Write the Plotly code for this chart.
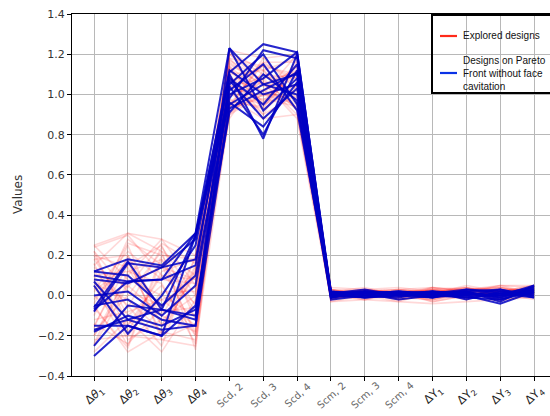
import plotly.graph_objects as go

dims = ["d1", "d2", "d3", "d4", "scd2", "scd3", "scd4", "scm2", "scm3", "scm4", "y1", "y2", "y3", "y4"]
tick_labels = ["Δ<i>θ</i><sub>1</sub>", "Δ<i>θ</i><sub>2</sub>", "Δ<i>θ</i><sub>3</sub>", "Δ<i>θ</i><sub>4</sub>",
               "Scd, 2", "Scd, 3", "Scd, 4", "Scm, 2", "Scm, 3", "Scm, 4",
               "ΔY<sub>1</sub>", "ΔY<sub>2</sub>", "ΔY<sub>3</sub>", "ΔY<sub>4</sub>"]
light_label = [False, False, False, False, True, True, True, True, True, True, False, False, False, False]
y_ticks = [-0.4, -0.2, 0.0, 0.2, 0.4, 0.6, 0.8, 1.0, 1.2, 1.4]
legend_names = ["Explored designs", "Designs on Pareto<br>Front without face<br>cavitation"]

explored = [
    [0.25, 0.31, 0.28, 0.20, 1.15, 1.05, 1.12, 0.00, 0.02, 0.01, 0.03, 0.01, 0.02, 0.04],
    [0.15, 0.31, 0.22, 0.10, 1.20, 1.10, 1.00, 0.02, 0.00, -0.01, 0.02, 0.03, 0.04, 0.02],
    [-0.20, 0.10, 0.28, 0.05, 0.92, 1.00, 1.05, -0.02, 0.01, 0.02, -0.03, 0.00, 0.01, 0.03],
    [0.20, -0.10, 0.05, -0.20, 1.00, 0.95, 1.15, 0.01, 0.03, 0.00, 0.01, -0.02, 0.03, 0.00],
    [-0.10, 0.25, -0.15, 0.15, 1.10, 1.12, 0.92, 0.03, -0.01, 0.02, 0.00, 0.02, -0.03, 0.01],
    [0.05, -0.25, 0.20, -0.05, 0.95, 1.15, 1.08, 0.00, 0.02, 0.03, 0.02, 0.01, 0.02, 0.05],
    [-0.25, 0.05, -0.10, 0.18, 1.05, 0.90, 1.18, -0.01, 0.00, 0.01, 0.04, 0.03, 0.00, 0.02],
    [0.18, 0.20, -0.22, -0.25, 1.18, 1.00, 0.95, 0.02, 0.01, -0.02, 0.01, -0.01, 0.01, 0.03],
    [0.00, -0.15, 0.10, 0.08, 0.90, 1.08, 1.10, 0.01, 0.03, 0.02, -0.02, 0.02, 0.04, 0.01],
    [-0.15, 0.15, 0.25, -0.12, 1.12, 0.95, 1.02, -0.02, 0.02, 0.00, 0.03, 0.04, -0.01, 0.04],
    [0.22, 0.02, -0.05, 0.12, 1.22, 1.18, 1.20, 0.01, -0.02, 0.01, 0.00, 0.02, 0.03, -0.01],
    [-0.05, -0.28, -0.18, -0.22, 0.98, 0.88, 0.90, 0.00, 0.01, -0.01, 0.02, 0.00, 0.02, 0.03],
    [0.10, 0.12, 0.18, -0.08, 1.08, 1.02, 1.14, 0.03, 0.02, 0.03, 0.01, 0.03, 0.00, 0.02],
    [-0.22, -0.20, 0.02, 0.02, 0.88, 1.12, 0.98, -0.03, 0.00, 0.02, -0.01, 0.01, -0.02, 0.00],
    [0.12, -0.05, -0.25, 0.20, 1.14, 0.92, 1.06, 0.02, 0.04, 0.00, 0.03, -0.01, 0.02, 0.04],
    [-0.08, 0.28, 0.15, -0.18, 1.02, 1.16, 1.16, 0.01, 0.01, 0.02, 0.02, 0.02, 0.05, 0.01],
    [0.08, -0.22, -0.12, 0.00, 0.94, 0.98, 0.94, -0.01, 0.03, -0.02, 0.00, 0.04, 0.01, 0.03],
    [-0.18, 0.00, 0.22, -0.27, 1.16, 1.04, 1.04, 0.02, -0.01, 0.01, -0.03, 0.00, 0.03, 0.02],
    [0.25, 0.08, 0.00, -0.10, 1.06, 1.14, 0.96, 0.00, 0.02, 0.03, 0.04, 0.02, -0.02, 0.05],
    [-0.02, 0.18, -0.20, 0.14, 0.96, 0.94, 1.12, 0.03, 0.00, 0.00, 0.01, 0.05, 0.02, 0.01],
    [0.16, -0.18, 0.12, 0.18, 1.20, 1.06, 0.88, -0.02, 0.02, 0.02, 0.02, -0.02, 0.04, 0.00],
    [-0.12, -0.08, -0.02, -0.15, 0.90, 1.00, 1.20, 0.01, 0.01, -0.01, -0.02, 0.01, 0.00, 0.04],
    [0.03, 0.22, 0.08, 0.06, 1.10, 0.90, 1.00, 0.00, -0.02, 0.02, 0.03, 0.03, 0.03, 0.02],
    [-0.28, -0.12, -0.28, -0.02, 1.00, 1.10, 1.08, 0.02, 0.03, 0.01, 0.00, 0.00, 0.01, -0.02],
    [0.20, 0.14, -0.15, 0.10, 0.93, 1.18, 1.02, 0.01, 0.00, -0.03, 0.02, 0.02, -0.01, 0.03],
    [-0.06, -0.26, 0.18, -0.20, 1.13, 0.96, 1.14, -0.01, 0.02, 0.01, 0.01, 0.04, 0.02, 0.01],
    [0.14, 0.04, 0.26, 0.16, 1.04, 1.08, 0.92, 0.03, 0.01, 0.02, -0.01, 0.01, 0.05, 0.04],
    [-0.16, 0.20, -0.08, -0.06, 0.97, 0.93, 1.16, 0.00, 0.03, 0.00, 0.04, -0.01, 0.00, 0.02],
    [0.06, -0.02, -0.18, 0.12, 1.18, 1.14, 1.10, 0.02, 0.00, 0.02, 0.02, 0.03, 0.03, 0.00],
    [-0.24, 0.12, 0.06, -0.24, 0.91, 1.02, 0.96, -0.02, 0.01, 0.01, 0.00, 0.02, -0.02, 0.03],
    [0.22, -0.14, -0.02, 0.04, 1.09, 0.88, 1.04, 0.01, 0.02, -0.01, 0.03, 0.00, 0.02, 0.05],
    [-0.04, 0.26, 0.20, 0.18, 1.21, 1.12, 1.18, 0.02, -0.01, 0.03, 0.01, 0.03, 0.04, 0.01],
    [0.10, -0.20, -0.22, -0.14, 0.99, 1.06, 0.90, 0.00, 0.02, 0.00, -0.02, 0.01, 0.01, 0.02],
    [-0.20, 0.06, 0.14, 0.08, 1.06, 0.97, 1.12, 0.03, 0.00, 0.02, 0.02, 0.04, -0.01, 0.04],
    [0.02, 0.16, -0.10, -0.18, 0.94, 1.16, 1.06, -0.01, 0.03, 0.01, 0.01, 0.00, 0.03, 0.00],
    [0.18, -0.06, 0.24, 0.00, 1.14, 1.00, 0.98, 0.01, 0.01, -0.02, 0.04, 0.02, 0.02, 0.03],
    [0.24, 0.30, 0.10, -0.04, 1.03, 0.99, 1.09, -0.03, -0.02, -0.03, -0.04, -0.03, -0.02, -0.01],
    [-0.14, -0.24, -0.06, 0.10, 1.17, 1.07, 0.93, 0.04, 0.03, 0.04, 0.02, 0.03, 0.05, 0.05],
]

pareto = [
    [0.12, 0.18, 0.15, 0.31, 1.23, 1.05, 1.10, 0.01, 0.02, 0.00, 0.01, 0.02, -0.01, 0.03],
    [0.10, 0.07, 0.08, 0.15, 1.11, 1.25, 1.21, 0.00, 0.01, 0.02, 0.00, -0.01, 0.01, 0.04],
    [0.07, -0.12, -0.07, 0.30, 1.10, 0.78, 1.20, 0.02, 0.00, -0.01, 0.02, 0.01, 0.00, 0.02],
    [-0.06, 0.17, -0.07, -0.10, 1.05, 1.20, 0.95, -0.01, 0.02, 0.01, -0.01, 0.03, 0.02, 0.00],
    [-0.07, 0.07, 0.08, 0.31, 1.00, 1.08, 1.21, 0.01, -0.01, 0.00, 0.01, 0.02, -0.03, 0.05],
    [-0.15, -0.15, -0.20, 0.30, 0.96, 0.84, 1.06, 0.00, 0.02, 0.01, 0.00, 0.00, 0.01, 0.01],
    [-0.17, -0.12, -0.17, -0.15, 0.93, 1.02, 1.11, -0.01, 0.01, 0.02, 0.01, -0.01, -0.02, 0.03],
    [-0.25, -0.05, -0.07, -0.12, 1.23, 0.92, 1.08, 0.02, 0.00, 0.01, -0.01, 0.02, 0.03, 0.00],
    [-0.30, -0.15, -0.20, -0.05, 0.91, 1.10, 0.97, 0.01, 0.03, 0.00, 0.02, 0.00, -0.04, 0.02],
    [0.05, -0.19, 0.00, 0.25, 1.08, 0.95, 1.15, 0.00, -0.01, 0.01, 0.01, 0.03, 0.01, -0.01],
    [0.00, 0.02, -0.10, 0.05, 1.02, 1.15, 0.92, 0.02, 0.01, -0.02, 0.00, 0.01, 0.00, 0.03],
    [-0.05, -0.02, -0.12, -0.15, 1.07, 0.88, 1.03, -0.02, 0.00, 0.01, 0.02, -0.02, 0.02, 0.01],
    [0.12, 0.10, -0.05, 0.10, 0.98, 1.22, 1.18, 0.01, 0.02, 0.00, -0.01, 0.01, -0.01, 0.04],
    [-0.08, 0.16, 0.14, 0.28, 1.12, 1.00, 1.05, 0.00, 0.01, 0.02, 0.01, 0.00, 0.03, -0.01],
    [-0.18, -0.10, -0.15, -0.07, 0.95, 1.05, 1.00, 0.01, -0.01, 0.00, 0.00, 0.02, -0.02, 0.02],
    [0.08, 0.06, 0.14, 0.18, 1.04, 0.80, 1.12, -0.01, 0.02, 0.01, 0.02, 0.01, 0.00, 0.05],
]

x_idx = list(range(len(dims)))
fig = go.Figure()

for row in explored:
    fig.add_trace(go.Scatter(x=x_idx, y=row, mode="lines", showlegend=False, hoverinfo="skip",
                             line=dict(color="rgba(255,40,40,0.18)", width=1.6)))
for row in pareto:
    fig.add_trace(go.Scatter(x=x_idx, y=row, mode="lines", showlegend=False, hoverinfo="skip",
                             line=dict(color="rgba(0,0,195,0.85)", width=2)))

# pixel geometry of the plot area
W, H = 550, 416
L, T, B = 72, 14, 40
PW, PH = W - L, H - T - B


def px(xp):
    return (xp - L) / PW


def py(yp):
    return (H - B - yp) / PH


annotations = [dict(text="Values", x=px(18), y=0.5, xref="paper", yref="paper",
                    textangle=-90, showarrow=False, xanchor="center", yanchor="middle",
                    font=dict(size=12, color="#333", family="DejaVu Sans"))]

# x tick labels, centred under each tick like the original
for i, lab in enumerate(tick_labels):
    annotations.append(dict(
        text=lab, x=(i - (-0.65)) / 14.12, y=py(395), xref="paper", yref="paper", textangle=-42,
        showarrow=False, xanchor="center", yanchor="middle",
        font=dict(size=10, color="#666", family="DejaVu Sans") if light_label[i]
        else dict(size=11.5, color="#222", family="DejaVu Sans")))

# legend (drawn by hand so it can run past the right edge like the original)
shapes = [dict(type="rect", xref="paper", yref="paper", x0=px(432), x1=px(560),
               y0=py(93), y1=py(15), line=dict(color="black", width=2),
               fillcolor="rgba(0,0,0,0)", layer="above"),
          dict(type="line", xref="paper", yref="paper", x0=px(440), x1=px(457),
               y0=py(36), y1=py(36), line=dict(color="#ff2a1a", width=2.2)),
          dict(type="line", xref="paper", yref="paper", x0=px(440), x1=px(457),
               y0=py(73), y1=py(73), line=dict(color="#0a32e6", width=2.2))]
annotations.append(dict(text=legend_names[0], x=px(461), y=py(36), xref="paper", yref="paper",
                        showarrow=False, xanchor="left", yanchor="middle", align="left",
                        font=dict(size=10, color="#111", family="Liberation Sans")))
annotations.append(dict(text=legend_names[1], x=px(461), y=py(73), xref="paper", yref="paper",
                        showarrow=False, xanchor="left", yanchor="middle", align="left",
                        font=dict(size=10, color="#111", family="Liberation Sans")))

fig.update_layout(
    width=W, height=H,
    margin=dict(l=L, r=0, t=T, b=B, autoexpand=False),
    paper_bgcolor="white", plot_bgcolor="white",
    font=dict(family="DejaVu Sans", color="#222"),
    showlegend=False,
    annotations=annotations, shapes=shapes,
)
fig.update_xaxes(range=[-0.65, 13.47], tickmode="array", tickvals=x_idx, showticklabels=False,
                 showgrid=True, gridcolor="#b8b8b8", gridwidth=1,
                 showline=True, linecolor="black", linewidth=1.2, mirror=True,
                 ticks="outside", ticklen=4, tickcolor="black", automargin=False, zeroline=False)
fig.update_yaxes(range=[-0.4, 1.4], tickmode="array", tickvals=y_ticks, tickformat=".1f",
                 showgrid=True, gridcolor="#b8b8b8", gridwidth=1,
                 showline=True, linecolor="black", linewidth=1.2, automargin=False,
                 ticks="outside", ticklen=4, tickcolor="black",
                 tickfont=dict(size=11, color="#333"), zeroline=False)

fig.write_html("out.html", config={"displayModeBar": False},
               post_script="document.body.style.margin='0';document.body.style.overflow='hidden';")
